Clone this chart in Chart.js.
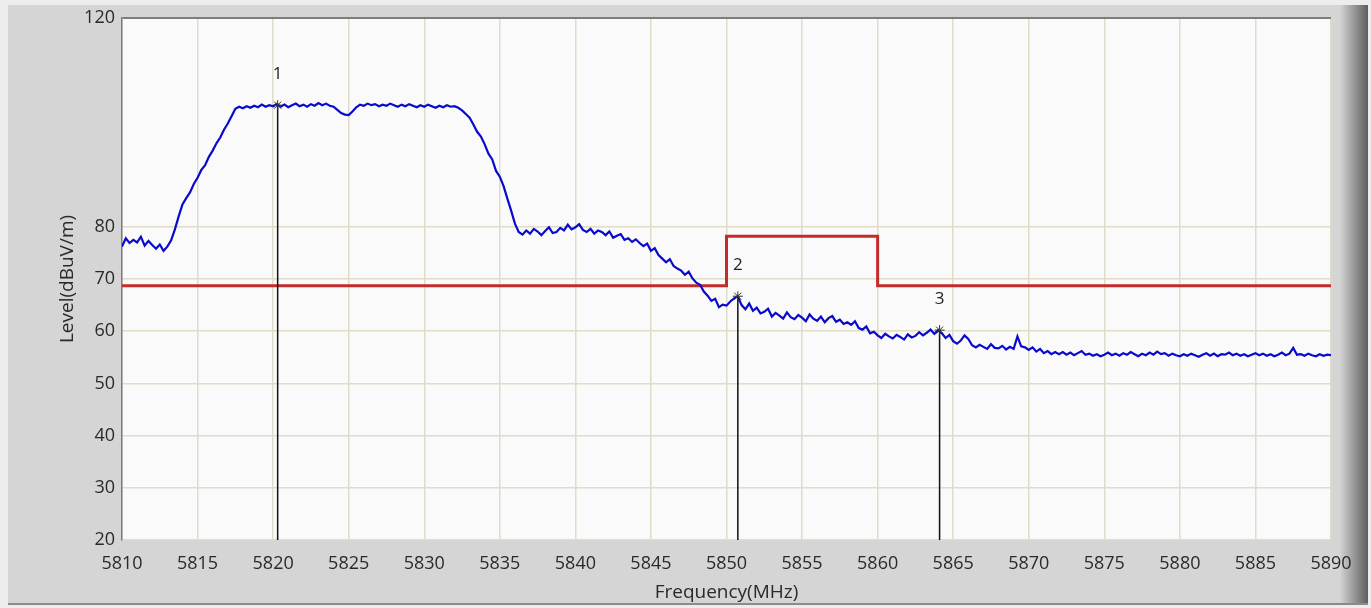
<!DOCTYPE html>
<html>
<head>
<meta charset="utf-8">
<script src="https://cdn.jsdelivr.net/npm/chart.js@4.4.1/dist/chart.umd.min.js"></script>
<style>
  html, body { margin: 0; padding: 0; background: #ececec; }
  #wrap { position: relative; width: 1371px; height: 608px; }
</style>
</head>
<body>
<div id="wrap"><canvas id="spectrumChart"></canvas></div>
<script>
// measured trace, one reading every 0.25 MHz from 5810 MHz
const freqStart = 5810;
const freqStep = 0.25;
const levels = [
  76.2, 77.8, 76.9, 77.5,  77.0, 78.1, 76.4, 77.3,  76.5, 75.8, 76.6, 75.4,  76.2, 77.4, 79.5, 82.0,
  84.3, 85.5, 86.6, 88.2,  89.4, 90.9, 91.8, 93.4,  94.6, 96.0, 97.1, 98.6,  99.8, 101.2, 102.6, 103.0,
  102.7, 103.1, 102.8, 103.2,  102.9, 103.4, 103.0, 103.3,  103.1, 103.5, 103.0, 103.4,  102.9, 103.3, 103.6, 103.1,
  103.4, 103.0, 103.5, 103.2,  103.7, 103.3, 103.6, 103.2,  103.0, 102.4, 101.8, 101.5,  101.4, 102.1, 102.9, 103.4,
  103.2, 103.6, 103.3, 103.5,  103.1, 103.4, 103.2, 103.6,  103.3, 103.0, 103.4, 103.1,  103.5, 103.2, 102.9, 103.3,
  103.0, 103.4, 103.1, 102.8,  103.2, 102.9, 103.3, 103.0,  103.1, 102.8, 102.3, 101.6,  100.9, 99.6, 98.2, 97.3,
  95.8, 94.0, 92.9, 90.7,  89.6, 87.8, 85.4, 83.1,  80.6, 79.0, 78.5, 79.3,  78.7, 79.6, 79.1, 78.4,
  79.2, 79.9, 78.8, 79.0,  79.8, 79.3, 80.4, 79.5,  79.9, 80.5, 79.4, 79.0,  79.6, 78.7, 79.3, 79.0,
  78.4, 79.1, 77.9, 78.3,  78.6, 77.5, 77.8, 77.1,  77.6, 76.9, 76.3, 76.8,  75.4, 75.9, 74.6, 73.9,
  73.2, 73.8, 72.5, 72.0,  71.6, 70.8, 71.4, 70.1,  69.3, 68.9, 67.6, 66.8,  65.8, 66.2, 64.6, 65.1,
  64.9, 65.7, 66.3, 66.7,  65.0, 64.2, 65.3, 63.9,  64.5, 63.4, 63.7, 64.3,  62.8, 63.5, 63.0, 62.4,
  63.6, 62.7, 62.3, 63.1,  62.6, 61.9, 63.2, 62.4,  62.0, 62.8, 61.7, 62.5,  62.9, 61.8, 62.2, 61.4,
  61.7, 61.2, 61.9, 60.6,  60.3, 60.9, 59.6, 59.9,  59.2, 58.7, 59.5, 59.0,  58.6, 59.3, 58.9, 58.4,
  59.4, 58.8, 59.1, 59.8,  59.2, 59.7, 60.3, 59.5,  60.2, 59.6, 58.7, 59.3,  58.1, 57.6, 58.2, 59.2,
  58.5, 57.3, 56.9, 57.4,  57.0, 56.6, 57.5, 56.8,  56.7, 57.2, 56.5, 57.0,  56.6, 59.0, 57.1, 56.9,
  56.4, 56.9, 56.1, 56.6,  55.8, 56.2, 55.6, 56.0,  55.6, 56.0, 55.5, 55.9,  55.4, 55.8, 56.2, 55.5,
  55.7, 55.3, 55.6, 55.2,  55.5, 55.9, 55.4, 55.7,  55.3, 55.8, 55.5, 56.0,  55.6, 55.2, 55.7, 55.4,
  55.9, 55.5, 56.1, 55.6,  55.8, 55.3, 55.7, 55.4,  55.2, 55.6, 55.3, 55.7,  55.4, 55.1, 55.5, 55.8,
  55.3, 55.7, 55.2, 55.6,  55.5, 55.9, 55.4, 55.7,  55.3, 55.6, 55.2, 55.5,  55.8, 55.4, 55.7, 55.3,
  55.6, 55.2, 55.5, 55.9,  55.4, 55.7, 56.8, 55.5,  55.6, 55.3, 55.7, 55.4,  55.2, 55.6, 55.3, 55.5,
  55.4
];

// limit mask
const limitFreqs = [5810, 5850, 5850, 5860, 5860, 5890];
const limitLevels = [68.7, 68.7, 78.2, 78.2, 68.7, 68.7];

// markers
const markerFreqs = [5820.3, 5850.75, 5864.1];
const markerLevels = [103.3, 66.7, 60.2];
const markerLabels = ['1', '2', '3'];

const xTicks = [5810, 5815, 5820, 5825, 5830, 5835, 5840, 5845, 5850, 5855, 5860, 5865, 5870, 5875, 5880, 5885, 5890];
const yTicks = [20, 30, 40, 50, 60, 70, 80, 120];

const tickFont = { family: "'Open Sans', sans-serif", size: 18 };
const titleFont = { family: "'Open Sans', sans-serif", size: 19 };
const textColor = '#2a2a2a';
const gridColor = '#dfdcc7';
const frameColor = '#7c7c7c';

const tracePoints = levels.map((v, i) => ({ x: freqStart + i * freqStep, y: v }));
const limitPoints = limitFreqs.map((f, i) => ({ x: f, y: limitLevels[i] }));

const markerSets = markerFreqs.map((f, i) => ({
    data: [{ x: f, y: markerLevels[i] }, { x: f, y: yTicks[0] }],
    borderColor: '#111',
    borderWidth: 1.5,
    pointRadius: [5, 0],
    pointStyle: 'star',
    pointBorderColor: '#333',
    pointBorderWidth: 1,
    order: 0
}));

// panel background and plot face
const framePlugin = {
    id: 'frame',
    beforeDraw(chart) {
        const c = chart.ctx;
        const a = chart.chartArea;
        c.save();
        c.fillStyle = '#ededed';
        c.fillRect(0, 0, chart.width, chart.height);
        c.fillStyle = '#d5d5d5';
        c.fillRect(8, 5, 1345, 598);
        const g = c.createLinearGradient(1340, 0, 1368, 0);
        g.addColorStop(0, '#d3d3d3');
        g.addColorStop(1, '#5e5e5e');
        c.fillStyle = g;
        c.fillRect(1340, 5, 28, 598);
        c.fillStyle = '#8a8a8a';
        c.fillRect(8, 603, 1360, 2);
        c.fillStyle = '#fafafa';
        c.fillRect(a.left, a.top, a.right - a.left, a.bottom - a.top);
        c.restore();
    }
};

// marker numbers above the points
const markerLabelPlugin = {
    id: 'markerLabels',
    afterDatasetsDraw(chart) {
        const c = chart.ctx;
        const xs = chart.scales.x, ys = chart.scales.y;
        c.save();
        c.font = "17px 'Open Sans', sans-serif";
        c.fillStyle = '#222';
        c.textAlign = 'center';
        c.textBaseline = 'middle';
        markerFreqs.forEach((f, i) => {
            c.fillText(markerLabels[i], xs.getPixelForValue(f), ys.getPixelForValue(markerLevels[i]) - 31);
        });
        c.restore();
    }
};

const ctx = document.getElementById('spectrumChart').getContext('2d');
new Chart(ctx, {
    type: 'line',
    data: {
        datasets: [
            {
                data: tracePoints,
                borderColor: '#0a0acc',
                borderWidth: 2.2,
                pointRadius: 0,
                order: 1
            },
            {
                data: limitPoints,
                borderColor: '#c42b2b',
                borderWidth: 3,
                pointRadius: 0,
                order: 2
            },
            ...markerSets
        ]
    },
    options: {
        responsive: true,
        maintainAspectRatio: false,
        animation: false,
        layout: { padding: { top: 18, right: 40, bottom: 0, left: 0 } },
        plugins: { legend: { display: false }, tooltip: { enabled: false } },
        elements: { line: { tension: 0 } },
        scales: {
            x: {
                type: 'linear',
                min: 5810,
                max: 5890,
                afterBuildTicks: s => { s.ticks = xTicks.map(v => ({ value: v })); },
                afterFit: s => { s.height = 68; },
                grid: { color: gridColor, lineWidth: 1.5, drawTicks: false },
                border: { display: false },
                ticks: { font: tickFont, color: textColor, padding: 13, maxRotation: 0, callback: v => String(v) },
                title: { display: true, text: 'Frequency(MHz)', font: titleFont, color: textColor, padding: { top: 0, bottom: 4 } }
            },
            y: {
                min: 20,
                max: 120,
                afterBuildTicks: s => { s.ticks = yTicks.map(v => ({ value: v })); },
                afterFit: s => { s.width = 122; },
                grid: {
                    color: c => (c.tick && c.tick.value === 120 ? frameColor : gridColor),
                    lineWidth: c => (c.tick && c.tick.value === 120 ? 2 : 1.5),
                    drawTicks: false
                },
                border: { display: true, color: frameColor, width: 1.5 },
                ticks: { font: tickFont, color: textColor, padding: 7, callback: v => String(v) },
                title: { display: true, text: 'Level(dBuV/m)', font: titleFont, color: textColor, padding: { top: 56, bottom: 0 } }
            }
        }
    },
    plugins: [framePlugin, markerLabelPlugin]
});
</script>
</body>
</html>
